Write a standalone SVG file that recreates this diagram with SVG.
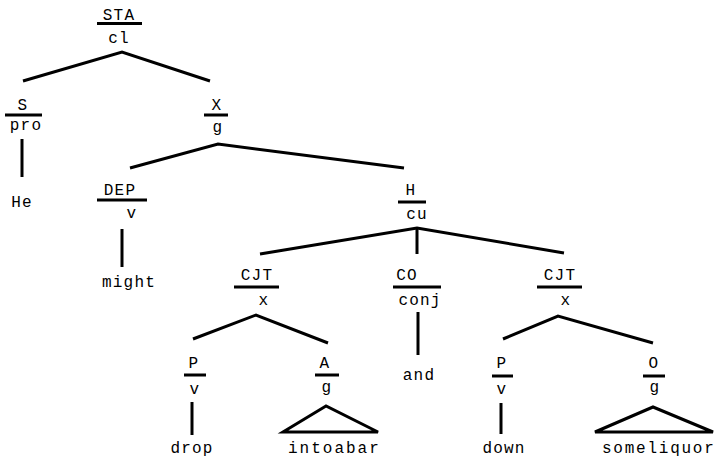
<svg xmlns="http://www.w3.org/2000/svg" width="716" height="464" viewBox="0 0 716 464">
  <style>
    text { font-family: "Liberation Mono", "DejaVu Sans Mono", monospace; font-size: 16px; letter-spacing: 1.2px; fill: #000; }
    .c { text-anchor: middle; }
    .bar { stroke: #000; stroke-width: 3; }
    .edge { stroke: #000; stroke-width: 3; fill: none; stroke-linecap: butt; }
  </style>
  <rect width="716" height="464" fill="#fff"/>

  <!-- connectors between the nodes -->
  <g id="edges">
    <polyline class="edge" points="23,81 122,52 210,81"/>
    <line class="edge" x1="22" y1="139" x2="22" y2="177"/>
    <polyline class="edge" points="130,168 218,144 404,168"/>
    <line class="edge" x1="122" y1="229" x2="122" y2="267"/>
    <polyline class="edge" points="260,254 417,228 564,253"/>
    <line class="edge" x1="417" y1="228" x2="417" y2="254"/>
    <polyline class="edge" points="193,339 256,315 328,343"/>
    <line class="edge" x1="418" y1="312" x2="418" y2="355"/>
    <polyline class="edge" points="503,339 558,316 653,343"/>
    <line class="edge" x1="192" y1="402" x2="192" y2="435"/>
    <polygon class="edge" points="326,406 283,432 378,432"/>
    <line class="edge" x1="501" y1="403" x2="501" y2="434"/>
    <polygon class="edge" points="653,407 595,432 713,432"/>
  </g>

  <!-- function / category nodes -->
  <g id="n-sta">
    <text class="c" x="119" y="20">STA</text>
    <line class="bar" x1="97" y1="23.5" x2="142" y2="23.5"/>
    <text class="c" x="119" y="43">cl</text>
  </g>
  <g id="n-s">
    <text class="c" x="23" y="110">S</text>
    <line class="bar" x1="5" y1="115" x2="42" y2="115"/>
    <text class="c" x="26" y="130">pro</text>
  </g>
  <g id="w-he"><text class="c" x="22" y="207">He</text></g>
  <g id="n-x">
    <text class="c" x="217" y="110">X</text>
    <line class="bar" x1="204" y1="115" x2="228" y2="115"/>
    <text class="c" x="218" y="132">g</text>
  </g>
  <g id="n-dep">
    <text class="c" x="120" y="195">DEP</text>
    <line class="bar" x1="97" y1="200" x2="147" y2="200"/>
    <text class="c" x="132" y="218">v</text>
  </g>
  <g id="w-might"><text class="c" x="129" y="287">might</text></g>
  <g id="n-h">
    <text class="c" x="411" y="195">H</text>
    <line class="bar" x1="398" y1="202" x2="426" y2="202"/>
    <text class="c" x="417" y="219">cu</text>
  </g>
  <g id="n-cjt1">
    <text class="c" x="257" y="280">CJT</text>
    <line class="bar" x1="234" y1="287" x2="279" y2="287"/>
    <text class="c" x="264" y="305">x</text>
  </g>
  <g id="n-co">
    <text class="c" x="407" y="280">CO</text>
    <line class="bar" x1="393" y1="287" x2="441" y2="287"/>
    <text class="c" x="420" y="305">conj</text>
  </g>
  <g id="w-and"><text class="c" x="419" y="380">and</text></g>
  <g id="n-cjt2">
    <text class="c" x="560" y="280">CJT</text>
    <line class="bar" x1="537" y1="287" x2="582" y2="287"/>
    <text class="c" x="566" y="305">x</text>
  </g>
  <g id="n-p1">
    <text class="c" x="194" y="368">P</text>
    <line class="bar" x1="184" y1="375" x2="206" y2="375"/>
    <text class="c" x="195" y="394">v</text>
  </g>
  <g id="w-drop"><text class="c" x="192" y="453">drop</text></g>
  <g id="n-a">
    <text class="c" x="325" y="368">A</text>
    <line class="bar" x1="315" y1="375" x2="339" y2="375"/>
    <text class="c" x="327" y="392">g</text>
  </g>
  <g id="w-intoabar"><text x="288" y="453" textLength="92" lengthAdjust="spacing">intoabar</text></g>
  <g id="n-p2">
    <text class="c" x="502" y="368">P</text>
    <line class="bar" x1="492" y1="376" x2="513" y2="376"/>
    <text class="c" x="502" y="394">v</text>
  </g>
  <g id="w-down"><text class="c" x="504" y="453">down</text></g>
  <g id="n-o">
    <text class="c" x="654" y="368">O</text>
    <line class="bar" x1="643" y1="376" x2="665" y2="376"/>
    <text class="c" x="655" y="392">g</text>
  </g>
  <g id="w-someliquor"><text x="602" y="453" textLength="113" lengthAdjust="spacing">someliquor</text></g>
</svg>
